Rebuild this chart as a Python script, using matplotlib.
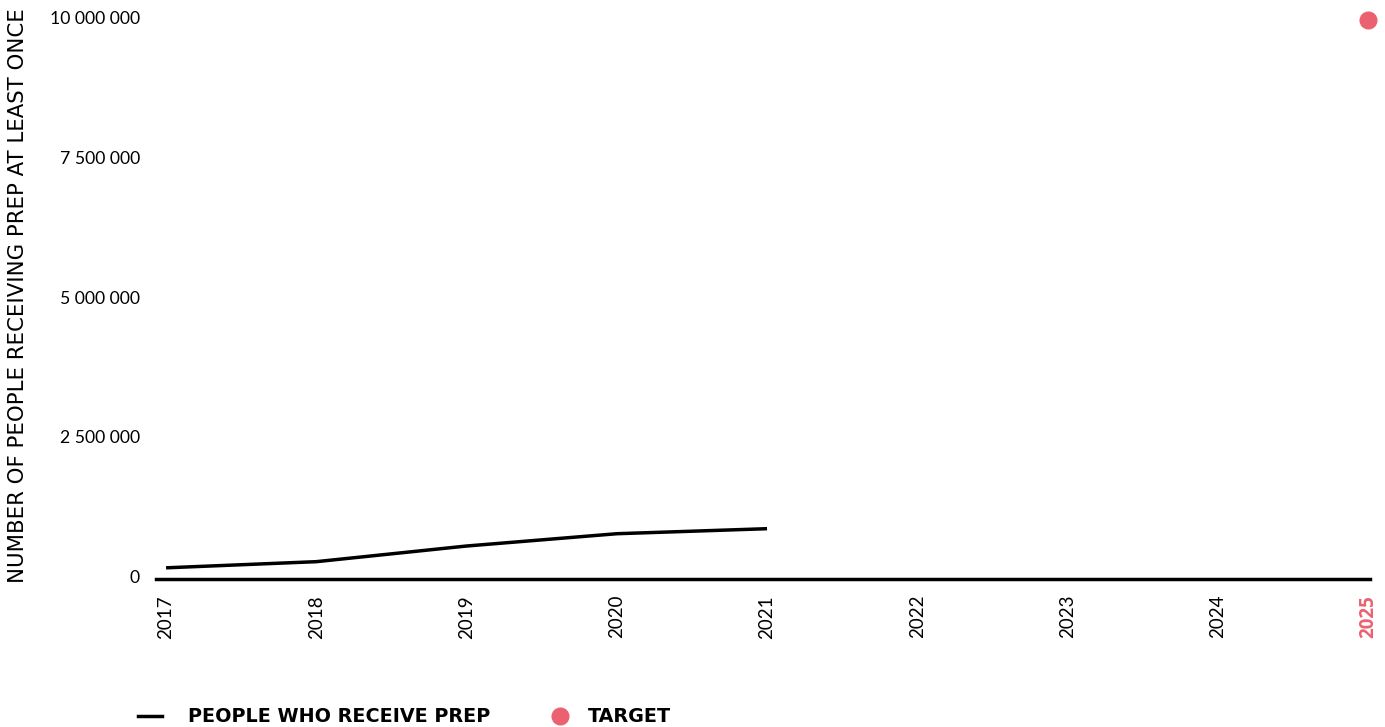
import numpy as np
import matplotlib.pyplot as plt
from matplotlib.transforms import offset_copy, blended_transform_factory

# data
years = [2017, 2018, 2019, 2020, 2021]
prep_users = [200000, 310000, 590000, 810000, 900000]
target_year = 2025
target_value = 10000000
tick_years = list(range(2017, 2026))
y_ticks = [0, 2500000, 5000000, 7500000, 10000000]
y_tick_labels = ["0", "2 500 000", "5 000 000", "7 500 000", "10 000 000"]

red = "#eb6170"
plt.rcParams["font.family"] = ["Lato", "DejaVu Sans"]

fig = plt.figure(figsize=(13.85, 7.27), dpi=100)
ax = fig.add_axes([156 / 1385, 148 / 727, 1214 / 1385, (579 - 20) / 727])

ax.plot(years, prep_users, color="black", lw=2.5, solid_capstyle="butt")
ax.plot([target_year], [target_value], "o", color=red, ms=12, clip_on=False)

ax.set_xlim(2016.933, 2025.013)
ax.set_ylim(0, 10000000)
for s in ["top", "right", "left"]:
    ax.spines[s].set_visible(False)
ax.spines["bottom"].set_linewidth(2.5)
ax.set_xticks([])
ax.set_yticks([])

# x labels: years, target year highlighted
xlab_tr = offset_copy(ax.transData, fig, x=0, y=-16, units="dots")
for yr in tick_years:
    if yr == target_year:
        ax.text(yr, 0, str(yr), rotation=90, ha="center", va="top", fontsize=13.5,
                color=red, fontweight="bold", family="Open Sans", transform=xlab_tr)
    else:
        ax.text(yr, 0, str(yr), rotation=90, ha="center", va="top", fontsize=13.5,
                transform=xlab_tr)

# y labels
ylab_tr = offset_copy(blended_transform_factory(fig.transFigure, ax.transData),
                      fig, x=0, y=1, units="dots")
for v, lab in zip(y_ticks, y_tick_labels):
    ax.text(140 / 1385, v, lab, ha="right", va="center", fontsize=12.7,
            transform=ylab_tr)

fig.text(18 / 1385, 1 - 296 / 727, "NUMBER OF PEOPLE RECEIVING PREP AT LEAST ONCE",
         rotation=90, ha="center", va="center", fontsize=15.3, family="DejaVu Sans")

# legend
ly = 1 - 716 / 727
fig.lines.append(plt.Line2D([138 / 1385, 162 / 1385], [ly] * 2,
                            color="black", lw=2.5, transform=fig.transFigure))
fig.text(188 / 1385, ly, "PEOPLE WHO RECEIVE PREP", fontsize=13.8,
         fontweight="bold", va="center", ha="left", family="DejaVu Sans")
fig.lines.append(plt.Line2D([560 / 1385], [ly], marker="o", color=red,
                            ms=12, transform=fig.transFigure))
fig.text(588 / 1385, ly, "TARGET", fontsize=13.8,
         fontweight="bold", va="center", ha="left", family="DejaVu Sans")

fig.savefig("out.png", dpi=100)
